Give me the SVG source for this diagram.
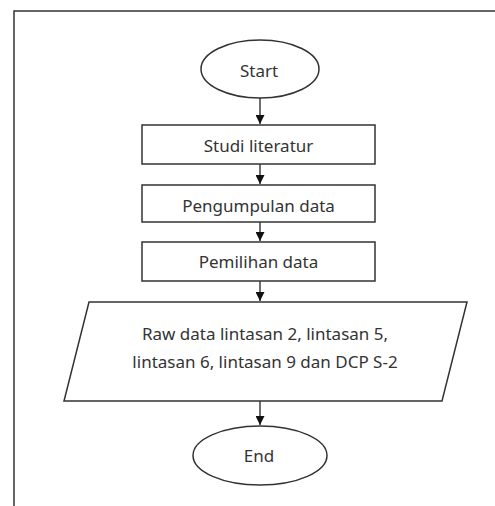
<svg xmlns="http://www.w3.org/2000/svg" width="495" height="506" viewBox="0 0 495 506">
<style>
.s{fill:#fff;stroke:#333;stroke-width:1.5}
.t{font-family:"Noto Sans","Open Sans",sans-serif;font-size:17px;fill:#333;text-anchor:middle}
.c{stroke:#222;stroke-width:1.3;fill:none}
</style>
<defs>
<marker id="ah" markerWidth="10" markerHeight="9" refX="9" refY="4.5" orient="auto" markerUnits="userSpaceOnUse">
<path d="M0,0 L9,4.5 L0,9 Z" fill="#111"/>
</marker>
</defs>
<rect width="495" height="506" fill="#fff"/>
<path d="M14,506 L14,11 L495,11" fill="none" stroke="#333" stroke-width="1.5"/>
<g id="connectors">
<line class="c" x1="260" y1="98" x2="260" y2="124" marker-end="url(#ah)"/>
<line class="c" x1="260" y1="164" x2="260" y2="184" marker-end="url(#ah)"/>
<line class="c" x1="260" y1="222" x2="260" y2="241" marker-end="url(#ah)"/>
<line class="c" x1="260" y1="281" x2="260" y2="301" marker-end="url(#ah)"/>
<line class="c" x1="260" y1="401" x2="260" y2="425" marker-end="url(#ah)"/>
</g>
<g id="start">
<ellipse class="s" cx="260" cy="69" rx="59" ry="29"/>
<text class="t" x="259" y="77">Start</text>
</g>
<g id="studi">
<rect class="s" x="142" y="125" width="233" height="39"/>
<text class="t" x="258.5" y="152">Studi literatur</text>
</g>
<g id="pengumpulan">
<rect class="s" x="142" y="185" width="233" height="37"/>
<text class="t" x="258.5" y="212">Pengumpulan data</text>
</g>
<g id="pemilihan">
<rect class="s" x="142" y="242" width="233" height="39"/>
<text class="t" x="258.5" y="268">Pemilihan data</text>
</g>
<g id="rawdata">
<polygon class="s" points="89,302 467,302 442,401 64,401"/>
<text class="t" x="265" y="340">Raw data lintasan 2, lintasan 5,</text>
<text class="t" x="265" y="368">lintasan 6, lintasan 9 dan DCP S-2</text>
</g>
<g id="end">
<ellipse class="s" cx="260" cy="455.5" rx="67" ry="29.5"/>
<text class="t" x="259" y="462">End</text>
</g>
</svg>
